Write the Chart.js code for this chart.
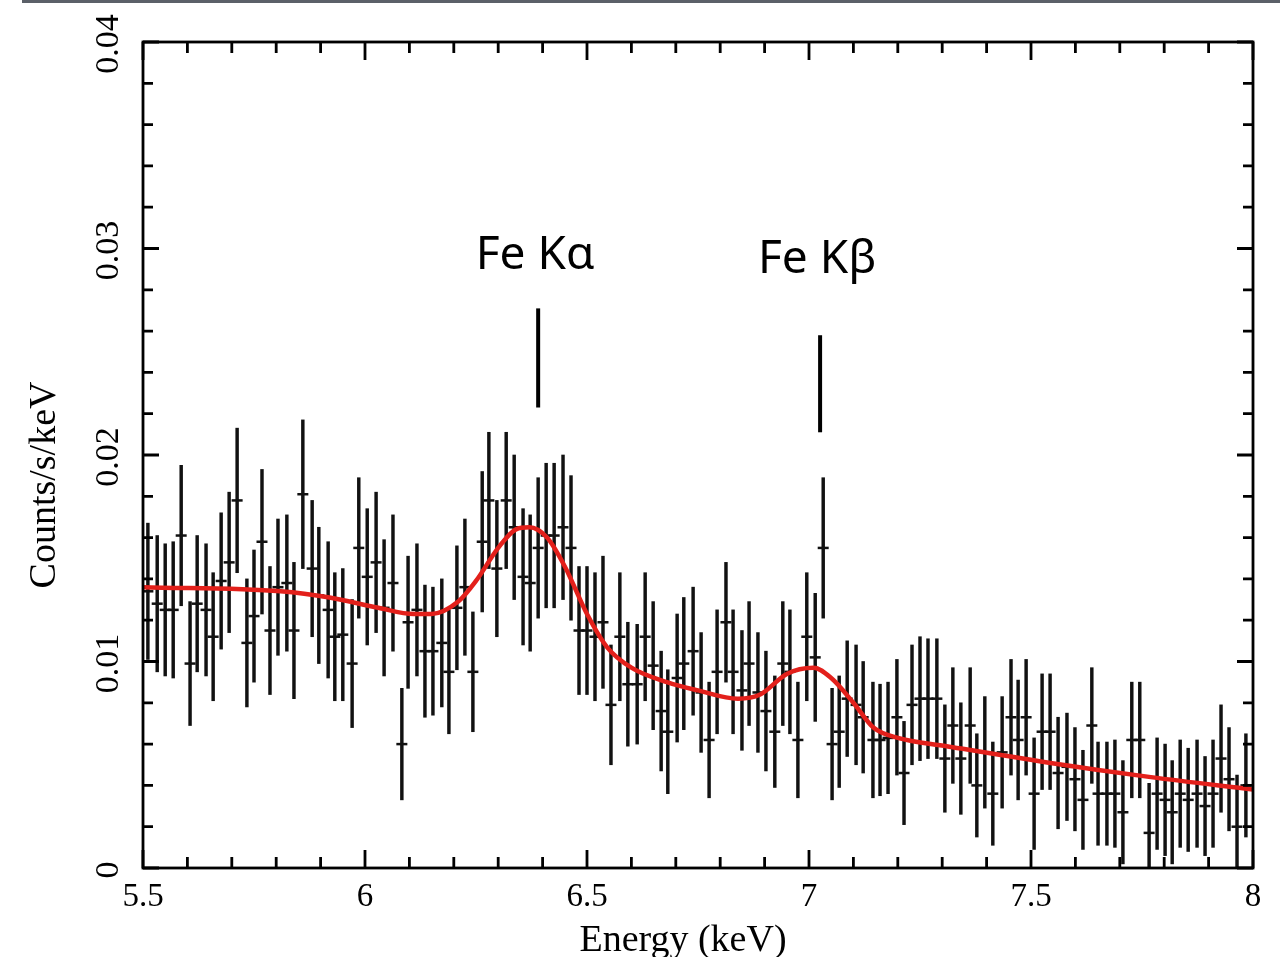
<!DOCTYPE html>
<html>
<head>
<meta charset="utf-8">
<script src="https://cdn.jsdelivr.net/npm/chart.js@4.4.1/dist/chart.umd.min.js"></script>
<style>
  html, body { margin: 0; padding: 0; background: #fff; }
  #wrap { position: relative; width: 1280px; height: 957px; }
  #topbar { position: absolute; left: 22px; top: 0; right: 0; height: 3px; background: #5b6068; }
  canvas { display: block; }
</style>
</head>
<body>
<div id="wrap">
  <canvas id="spectrum" width="1280" height="957"></canvas>
  <div id="topbar"></div>
</div>
<script>
"use strict";

// binned spectrum (keV, counts/s/keV, 1-sigma error)
const energies = [
  5.511, 5.532, 5.550, 5.568, 5.586, 5.606, 5.622, 5.642, 5.658, 5.676,
  5.694, 5.712, 5.734, 5.750, 5.768, 5.786, 5.804, 5.824, 5.840, 5.860,
  5.881, 5.896, 5.917, 5.932, 5.950, 5.971, 5.986, 6.005, 6.025, 6.043,
  6.063, 6.083, 6.097, 6.117, 6.135, 6.153, 6.173, 6.189, 6.207, 6.225,
  6.243, 6.264, 6.279, 6.297, 6.318, 6.336, 6.356, 6.372, 6.390, 6.408,
  6.426, 6.446, 6.464, 6.482, 6.500, 6.518, 6.536, 6.554, 6.574, 6.592,
  6.613, 6.631, 6.649, 6.667, 6.682, 6.703, 6.718, 6.739, 6.757, 6.775,
  6.793, 6.813, 6.829, 6.849, 6.865, 6.885, 6.903, 6.923, 6.941, 6.957,
  6.975, 6.995, 7.014, 7.032, 7.052, 7.068, 7.086, 7.106, 7.122, 7.144,
  7.160, 7.178, 7.198, 7.214, 7.232, 7.250, 7.268, 7.288, 7.306, 7.324,
  7.342, 7.363, 7.378, 7.396, 7.414, 7.435, 7.455, 7.471, 7.489, 7.507,
  7.525, 7.543, 7.561, 7.581, 7.599, 7.617, 7.637, 7.651, 7.671, 7.689,
  7.707, 7.727, 7.745, 7.766, 7.784, 7.802, 7.818, 7.836, 7.854, 7.874,
  7.892, 7.910, 7.928, 7.946, 7.964, 7.984,
];

const counts = [
  0.0134, 0.0128, 0.0125, 0.0125, 0.0161, 0.0099, 0.0128, 0.0125, 0.0112, 0.0139,
  0.0148, 0.0178, 0.0109, 0.0122, 0.0158, 0.0115, 0.0136, 0.0138, 0.0115, 0.0181,
  0.0145, 0.0132, 0.0125, 0.0112, 0.0113, 0.0099, 0.0155, 0.0141, 0.0148, 0.0126,
  0.0138, 0.0060, 0.0119, 0.0125, 0.0105, 0.0105, 0.0109, 0.0095, 0.0126, 0.0136,
  0.0095, 0.0158, 0.0178, 0.0145, 0.0178, 0.0165, 0.0141, 0.0138, 0.0155, 0.0161,
  0.0161, 0.0165, 0.0155, 0.0115, 0.0115, 0.0112, 0.0119, 0.0079, 0.0112, 0.0089,
  0.0089, 0.0112, 0.0098, 0.0076, 0.0066, 0.0092, 0.0099, 0.0105, 0.0085, 0.0062,
  0.0095, 0.0119, 0.0095, 0.0086, 0.0099, 0.0085, 0.0076, 0.0066, 0.0099, 0.0095,
  0.0062, 0.0112, 0.0102, 0.0155, 0.0060, 0.0066, 0.0082, 0.0079, 0.0073, 0.0062,
  0.0062, 0.0063, 0.0073, 0.0046, 0.0079, 0.0082, 0.0082, 0.0082, 0.0053, 0.0069,
  0.0053, 0.0069, 0.0040, 0.0056, 0.0036, 0.0056, 0.0073, 0.0062, 0.0073, 0.0036,
  0.0066, 0.0066, 0.0046, 0.0049, 0.0043, 0.0033, 0.0069, 0.0036, 0.0036, 0.0036,
  0.0027, 0.0062, 0.0062, 0.0017, 0.0036, 0.0033, 0.0027, 0.0036, 0.0033, 0.0036,
  0.0030, 0.0036, 0.0053, 0.0043, 0.0020, 0.0040,
];

const countErrors = [
  0.0033, 0.0033, 0.0032, 0.0033, 0.0034, 0.0030, 0.0033, 0.0032, 0.0031, 0.0033,
  0.0034, 0.0035, 0.0031, 0.0032, 0.0035, 0.0031, 0.0033, 0.0033, 0.0033, 0.0036,
  0.0033, 0.0033, 0.0033, 0.0031, 0.0032, 0.0031, 0.0034, 0.0033, 0.0034, 0.0033,
  0.0033, 0.0027, 0.0032, 0.0032, 0.0032, 0.0031, 0.0031, 0.0030, 0.0030, 0.0033,
  0.0029, 0.0034, 0.0033, 0.0033, 0.0033, 0.0035, 0.0033, 0.0033, 0.0034, 0.0035,
  0.0035, 0.0035, 0.0035, 0.0031, 0.0031, 0.0031, 0.0032, 0.0029, 0.0031, 0.0030,
  0.0029, 0.0031, 0.0031, 0.0029, 0.0030, 0.0031, 0.0032, 0.0031, 0.0029, 0.0028,
  0.0030, 0.0029, 0.0030, 0.0029, 0.0030, 0.0029, 0.0029, 0.0027, 0.0030, 0.0030,
  0.0028, 0.0031, 0.0031, 0.0034, 0.0027, 0.0027, 0.0028, 0.0029, 0.0027, 0.0028,
  0.0027, 0.0027, 0.0028, 0.0025, 0.0029, 0.0030, 0.0029, 0.0029, 0.0026, 0.0028,
  0.0027, 0.0028, 0.0025, 0.0027, 0.0025, 0.0027, 0.0028, 0.0029, 0.0028, 0.0027,
  0.0028, 0.0028, 0.0027, 0.0026, 0.0025, 0.0024, 0.0028, 0.0025, 0.0025, 0.0026,
  0.0025, 0.0028, 0.0028, 0.0024, 0.0027, 0.0027, 0.0025, 0.0026, 0.0025, 0.0026,
  0.0024, 0.0026, 0.0026, 0.0025, 0.0025, 0.0025,
];

// fitted model (red)
const modelEnergies = [
  5.50, 5.81, 5.92, 6.03, 6.11, 6.15, 6.21, 6.25, 6.30, 6.34,
  6.37, 6.41, 6.45, 6.50, 6.545, 6.60, 6.68, 6.75, 6.84, 6.89,
  6.95, 7.01, 7.05, 7.10, 7.145, 7.20, 7.31, 7.54, 7.77, 8.00,
];
const modelCounts = [
  0.0136, 0.0134, 0.0131, 0.0126, 0.0123, 0.0123, 0.0129, 0.0139, 0.0155, 0.0164,
  0.0165, 0.0160, 0.0146, 0.0123, 0.0107, 0.0097, 0.0090, 0.0086, 0.0082, 0.0084,
  0.0094, 0.0097, 0.0092, 0.0080, 0.0068, 0.0063, 0.0059, 0.0051, 0.0044, 0.0038,
];

const xTickLabels = ["5.5", "6", "6.5", "7", "7.5", "8"];
const yTickLabels = ["0", "0.01", "0.02", "0.03", "0.04"];

// line identifications
const lineNames = ["Fe Kα", "Fe Kβ"];
const lineEnergies = [6.39, 7.025];
const lineMarkTop = [0.0271, 0.0258];
const lineMarkBottom = [0.0223, 0.0211];
const lineNameLevel = [0.0290, 0.0288];

const serif = "'Liberation Serif', 'DejaVu Serif', serif";

const frameAndLabels = {
  id: "frameAndLabels",
  afterDraw(chart) {
    const { ctx, chartArea: area } = chart;
    const { x, y } = chart.scales;
    ctx.save();

    ctx.strokeStyle = "#000";
    ctx.lineWidth = 2.8;
    ctx.strokeRect(area.left, area.top, area.right - area.left, area.bottom - area.top);

    // inward ticks, x: minor 0.1, major 0.5
    for (let i = 0; i <= 25; i++) {
      const px = x.getPixelForValue(5.5 + i * 0.1);
      const len = i % 5 === 0 ? 18 : 11;
      ctx.beginPath();
      ctx.moveTo(px, area.bottom);
      ctx.lineTo(px, area.bottom - len);
      ctx.moveTo(px, area.top);
      ctx.lineTo(px, area.top + len);
      ctx.stroke();
    }
    // inward ticks, y: minor 0.002, major 0.01
    for (let i = 0; i <= 20; i++) {
      const py = y.getPixelForValue(i * 0.002);
      const len = i % 5 === 0 ? 16 : 10;
      ctx.beginPath();
      ctx.moveTo(area.left, py);
      ctx.lineTo(area.left + len, py);
      ctx.moveTo(area.right, py);
      ctx.lineTo(area.right - len, py);
      ctx.stroke();
    }

    ctx.fillStyle = "#000";
    ctx.font = `33px ${serif}`;
    ctx.textAlign = "center";
    ctx.textBaseline = "alphabetic";
    xTickLabels.forEach((label) => {
      ctx.fillText(label, x.getPixelForValue(Number(label)), 906);
    });

    ctx.font = `34px ${serif}`;
    yTickLabels.forEach((label) => {
      ctx.save();
      ctx.translate(118, y.getPixelForValue(Number(label)) + 2);
      ctx.rotate(-Math.PI / 2);
      ctx.fillText(label, 0, 0);
      ctx.restore();
    });

    ctx.font = `38px ${serif}`;
    ctx.fillText("Energy (keV)", 683, 951);
    ctx.save();
    ctx.translate(55, 485);
    ctx.rotate(-Math.PI / 2);
    ctx.fillText("Counts/s/keV", 0, 0);
    ctx.restore();

    // Fe line markers
    ctx.font = "46px 'Noto Sans', 'DejaVu Sans', sans-serif";
    ctx.lineWidth = 4;
    lineNames.forEach((name, i) => {
      const px = x.getPixelForValue(lineEnergies[i]);
      ctx.fillText(name, px - 3, y.getPixelForValue(lineNameLevel[i]));
      ctx.beginPath();
      ctx.moveTo(px, y.getPixelForValue(lineMarkTop[i]));
      ctx.lineTo(px, y.getPixelForValue(lineMarkBottom[i]));
      ctx.stroke();
    });

    ctx.restore();
  },
};

const errorBars = energies.map((e, i) => ({
  x: e,
  y: [counts[i] - countErrors[i], counts[i] + countErrors[i]],
}));
const binCentres = energies.map((e, i) => ({ x: e, y: counts[i] }));
const model = modelEnergies.map((e, i) => ({ x: e, y: modelCounts[i] }));

new Chart(document.getElementById("spectrum"), {
  type: "scatter",
  data: {
    datasets: [
      {
        type: "line",
        data: model,
        borderColor: "#e3201b",
        borderWidth: 4.5,
        pointRadius: 0,
        cubicInterpolationMode: "monotone",
        order: 0,
      },
      {
        type: "scatter",
        data: binCentres,
        pointStyle: "line",
        pointRadius: 5.5,
        borderColor: "#111",
        borderWidth: 2.5,
        order: 1,
      },
      {
        type: "bar",
        data: errorBars,
        backgroundColor: "#111",
        barThickness: 2.8,
        grouped: false,
        order: 2,
      },
    ],
  },
  options: {
    responsive: false,
    animation: false,
    devicePixelRatio: 1,
    layout: { padding: { top: 42, right: 27, left: 0, bottom: 0 } },
    plugins: { legend: { display: false }, tooltip: { enabled: false } },
    scales: {
      x: {
        type: "linear",
        min: 5.5,
        max: 8,
        offset: false,
        grid: { display: false, offset: false },
        border: { display: false },
        ticks: { display: false },
        afterFit: (scale) => { scale.height = 89; },
      },
      y: {
        type: "linear",
        min: 0,
        max: 0.04,
        grid: { display: false },
        border: { display: false },
        ticks: { display: false },
        afterFit: (scale) => { scale.width = 143; },
      },
    },
  },
  plugins: [frameAndLabels],
});
</script>
</body>
</html>
